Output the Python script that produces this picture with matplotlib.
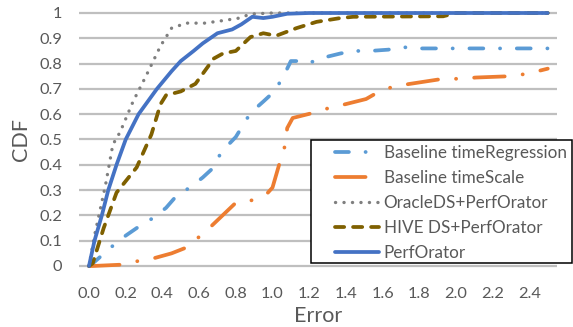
import numpy as np
import matplotlib.pyplot as plt
from matplotlib.patches import Rectangle

plt.rcParams['font.family'] = ['Lato', 'DejaVu Sans']
plt.rcParams['lines.scale_dashes'] = False

# CDF curves (x = error, y = CDF)
reg_x = [0, 0.02, 0.13, 0.2, 0.28, 0.35, 0.42, 0.48, 0.55, 0.62, 0.68, 0.72, 0.8, 0.88, 0.95,
         1.01, 1.06, 1.1, 1.13, 1.19, 1.28, 1.37, 1.44, 1.53, 1.63, 1.71, 1.8, 2.5]
reg_y = [0, 0.01, 0.08, 0.12, 0.16, 0.19, 0.23, 0.28, 0.31, 0.35, 0.39, 0.45, 0.51, 0.605, 0.65,
         0.69, 0.75, 0.81, 0.81, 0.80, 0.824, 0.84, 0.85, 0.85, 0.855, 0.865, 0.86, 0.86]

scale_x = [0, 0.02, 0.17, 0.27, 0.35, 0.45, 0.52, 0.6, 0.67, 0.8, 0.89, 0.975, 1.0, 1.04, 1.07,
           1.08, 1.11, 1.22, 1.31, 1.4, 1.51, 1.57, 1.66, 1.75, 1.93, 2.02, 2.11, 2.29, 2.39, 2.5]
scale_y = [0, 0.0, 0.005, 0.02, 0.03, 0.05, 0.07, 0.115, 0.16, 0.25, 0.26, 0.29, 0.31, 0.41, 0.48,
           0.545, 0.585, 0.605, 0.625, 0.64, 0.66, 0.685, 0.71, 0.72, 0.74, 0.74, 0.745, 0.75, 0.76, 0.78]

oracle_x = [0, 0.03, 0.06, 0.09, 0.13, 0.17, 0.24, 0.31, 0.39, 0.45, 0.53, 0.63, 0.73, 0.82, 0.88, 1.0, 2.5]
oracle_y = [0, 0.12, 0.22, 0.32, 0.48, 0.53, 0.65, 0.75, 0.87, 0.94, 0.96, 0.96, 0.97, 0.98, 0.996, 1.0, 1.0]

hive_x = [0, 0.02, 0.08, 0.15, 0.26, 0.34, 0.39, 0.42, 0.50, 0.58, 0.64, 0.68, 0.73, 0.80, 0.88,
          0.95, 1.02, 1.13, 1.24, 1.37, 1.44, 1.93, 2.0, 2.5]
hive_y = [0, 0.01, 0.15, 0.29, 0.39, 0.52, 0.64, 0.675, 0.69, 0.72, 0.78, 0.82, 0.84, 0.85, 0.905,
          0.92, 0.91, 0.94, 0.965, 0.98, 0.985, 0.987, 1.0, 1.0]

perf_x = [0, 0.03, 0.07, 0.105, 0.15, 0.2, 0.27, 0.37, 0.45, 0.5, 0.57, 0.62, 0.7, 0.78, 0.83,
          0.89, 0.95, 1.0, 1.08, 1.2, 2.5]
perf_y = [0, 0.1, 0.2, 0.3, 0.4, 0.5, 0.6, 0.7, 0.77, 0.81, 0.85, 0.88, 0.92, 0.935, 0.955,
          0.985, 0.98, 0.985, 0.997, 1.0, 1.0]

xticks = np.round(np.arange(0, 2.41, 0.2), 1)
yticks = np.round(np.arange(0, 1.01, 0.1), 1)
ytick_labels = ['0'] + ['%.1f' % v for v in yticks[1:-1]] + ['1']

W, H = 573, 327
fig = plt.figure(figsize=(W / 100, H / 100), dpi=100)
# axes placed in pixels: x 0 -> 89px, 1 unit = 183.5px; y 0 -> 266px, 1 -> 13px
x0, x1 = -0.0545, 2.55
y0, y1 = -0.01, 1.01
left = 89 + x0 * 183.5
right = 89 + x1 * 183.5
bot = 266 - y0 * 253
top = 266 - y1 * 253
ax = fig.add_axes([left / W, 1 - bot / H, (right - left) / W, (bot - top) / H])

lw = 2.7
ax.plot(reg_x, reg_y, color='#5B9BD5', lw=lw, dash_capstyle='round',
        linestyle=(0, (10, 12, 0.1, 12)), label='Baseline timeRegression')
ax.plot(scale_x, scale_y, color='#ED7D31', lw=lw, dash_capstyle='round',
        linestyle=(0, (22, 13, 0.1, 13)), label='Baseline timeScale')
ax.plot(oracle_x, oracle_y, color='#7F7F7F', lw=2.4, dash_capstyle='round',
        linestyle=(0, (0.1, 6)), label='OracleDS+PerfOrator')
ax.plot(hive_x, hive_y, color='#7F6000', lw=lw, dash_capstyle='round',
        linestyle=(0, (6.6, 6.4)), label='HIVE DS+PerfOrator')
ax.plot(perf_x, perf_y, color='#4472C4', lw=lw, solid_capstyle='round', label='PerfOrator')

ax.set_xlim(x0, x1)
ax.set_ylim(y0, y1)
ax.set_xticks(xticks)
ax.set_xticklabels(['%.1f' % v for v in xticks])
ax.set_yticks(yticks)
ax.set_yticklabels(ytick_labels)
ax.tick_params(length=0, labelsize=11.8, colors='#595959')
ax.tick_params(axis='x', pad=13)
ax.tick_params(axis='y', pad=12)
for s in ax.spines.values():
    s.set_visible(False)
ax.yaxis.grid(True, color='#BFBFBF', lw=1.6)
ax.set_axisbelow(True)

ax.set_xlabel('Error', fontsize=15.5, color='#595959', labelpad=4)
ax.set_ylabel('CDF', fontsize=15.5, color='#595959', labelpad=6)

# legend box in pixel coordinates
bx0, by0, bx1, by1 = 311, 140, 572, 263
box = Rectangle((bx0 / W, 1 - by1 / H), (bx1 - bx0) / W, (by1 - by0) / H,
                transform=fig.transFigure, facecolor='white', edgecolor='black',
                lw=1.1, zorder=4, clip_on=False)
fig.patches.append(box)
leg = fig.legend(loc='upper left', bbox_to_anchor=((bx0 + 12) / W, 1 - (by0 - 7) / H),
                 frameon=False, fontsize=12.3, handlelength=2.55, handletextpad=0.3,
                 labelspacing=0.53, borderpad=0.2, labelcolor='#595959')
leg.set_zorder(5)

fig.savefig('out.png', dpi=100)
